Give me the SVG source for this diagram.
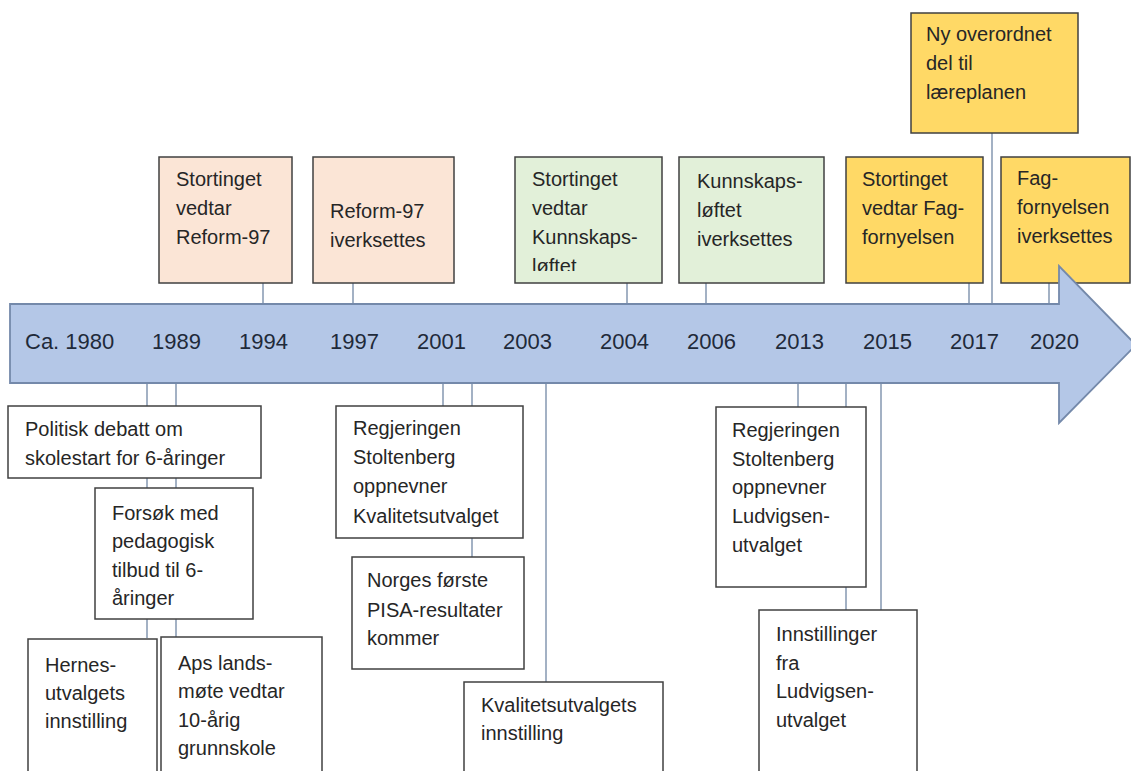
<svg xmlns="http://www.w3.org/2000/svg" width="1131" height="771" viewBox="0 0 1131 771">
<style>
text{font-family:"Liberation Sans",Arial,sans-serif;font-size:20px;fill:#262626}
.yr{font-size:22px;fill:#1f2a3a}
.box{stroke:#404040;stroke-width:1.5}
.w{fill:#ffffff}
.pe{fill:#fbe5d6}
.gr{fill:#e2f0d9}
.ye{fill:#ffd966}
.con line{stroke:#8497b0;stroke-width:1.5}
</style>
<defs>
<clipPath id="c3"><rect x="515" y="157" width="147" height="114"/></clipPath>
</defs>
<rect width="1131" height="771" fill="#ffffff"/>
<g id="connectors" class="con">
<line x1="263" y1="283" x2="263" y2="304"/>
<line x1="353" y1="283" x2="353" y2="304"/>
<line x1="627" y1="283" x2="627" y2="304"/>
<line x1="706" y1="283" x2="706" y2="304"/>
<line x1="969" y1="283" x2="969" y2="304"/>
<line x1="992" y1="133" x2="992" y2="304"/>
<line x1="1049" y1="283" x2="1049" y2="304"/>
<line x1="147" y1="383" x2="147" y2="638"/>
<line x1="176" y1="383" x2="176" y2="638"/>
<line x1="443" y1="383" x2="443" y2="406"/>
<line x1="472" y1="383" x2="472" y2="557"/>
<line x1="546" y1="383" x2="546" y2="682"/>
<line x1="798" y1="383" x2="798" y2="407"/>
<line x1="846" y1="383" x2="846" y2="610"/>
<line x1="881" y1="383" x2="881" y2="610"/>
</g>
<g id="n-1994-top">
<rect class="box pe" x="159" y="157" width="133" height="126"/>
<text x="176" y="186">Stortinget</text><text x="176" y="215">vedtar</text><text x="176" y="244">Reform-97</text>
</g>
<g id="n-1997-top">
<rect class="box pe" x="313" y="157" width="141" height="126"/>
<text x="330" y="218">Reform-97</text><text x="330" y="247">iverksettes</text>
</g>
<g id="n-2004-top">
<rect class="box gr" x="515" y="157" width="147" height="126"/>
<g clip-path="url(#c3)"><text x="532" y="186">Stortinget</text><text x="532" y="215">vedtar</text><text x="532" y="244">Kunnskaps-</text><text x="532" y="273">løftet</text></g>
</g>
<g id="n-2006-top">
<rect class="box gr" x="679" y="157" width="145" height="126"/>
<text x="697" y="188">Kunnskaps-</text><text x="697" y="217">løftet</text><text x="697" y="246">iverksettes</text>
</g>
<g id="n-2015-top">
<rect class="box ye" x="846" y="157" width="137" height="126"/>
<text x="862" y="186">Stortinget</text><text x="862" y="215">vedtar Fag-</text><text x="862" y="244">fornyelsen</text>
</g>
<g id="n-2017-top">
<rect class="box ye" x="911" y="13" width="167" height="120"/>
<text x="926" y="41">Ny overordnet</text><text x="926" y="70">del til</text><text x="926" y="99">læreplanen</text>
</g>
<g id="n-2020-top">
<rect class="box ye" x="1001" y="157" width="129" height="126"/>
<text x="1017" y="185">Fag-</text><text x="1017" y="214">fornyelsen</text><text x="1017" y="243">iverksettes</text>
</g>
<g id="timeline">
<path d="M10,304 H1059 V266 L1136,345 L1059,423 V383 H10 Z" fill="#b4c7e7" stroke="#7489aa" stroke-width="1.8"/>
<text class="yr" x="25" y="349">Ca. 1980</text>
<text class="yr" x="152" y="349">1989</text>
<text class="yr" x="239" y="349">1994</text>
<text class="yr" x="330" y="349">1997</text>
<text class="yr" x="417" y="349">2001</text>
<text class="yr" x="503" y="349">2003</text>
<text class="yr" x="600" y="349">2004</text>
<text class="yr" x="687" y="349">2006</text>
<text class="yr" x="775" y="349">2013</text>
<text class="yr" x="863" y="349">2015</text>
<text class="yr" x="950" y="349">2017</text>
<text class="yr" x="1030" y="349">2020</text>
</g>
<g id="n-politisk">
<rect class="box w" x="8" y="406" width="253" height="72"/>
<text x="25" y="436">Politisk debatt om</text><text x="25" y="465">skolestart for 6-åringer</text>
</g>
<g id="n-forsok">
<rect class="box w" x="95" y="488" width="158" height="131"/>
<text x="112" y="520">Forsøk med</text><text x="112" y="548">pedagogisk</text><text x="112" y="577">tilbud til 6-</text><text x="112" y="605">åringer</text>
</g>
<g id="n-hernes">
<rect class="box w" x="28" y="639" width="129" height="150"/>
<text x="45" y="672">Hernes-</text><text x="45" y="700">utvalgets</text><text x="45" y="728">innstilling</text>
</g>
<g id="n-aps">
<rect class="box w" x="161" y="637" width="161" height="150"/>
<text x="178" y="670">Aps lands-</text><text x="178" y="698">møte vedtar</text><text x="178" y="727">10-årig</text><text x="178" y="755">grunnskole</text>
</g>
<g id="n-kval-oppnevnt">
<rect class="box w" x="336" y="406" width="187" height="132"/>
<text x="353" y="435">Regjeringen</text><text x="353" y="464">Stoltenberg</text><text x="353" y="493">oppnevner</text><text x="353" y="523">Kvalitetsutvalget</text>
</g>
<g id="n-pisa">
<rect class="box w" x="352" y="557" width="172" height="112"/>
<text x="367" y="587">Norges første</text><text x="367" y="617">PISA-resultater</text><text x="367" y="645">kommer</text>
</g>
<g id="n-kval-innst">
<rect class="box w" x="464" y="682" width="199" height="110"/>
<text x="481" y="712">Kvalitetsutvalgets</text><text x="481" y="740">innstilling</text>
</g>
<g id="n-ludv-oppnevnt">
<rect class="box w" x="716" y="407" width="150" height="180"/>
<text x="732" y="437">Regjeringen</text><text x="732" y="466">Stoltenberg</text><text x="732" y="494">oppnevner</text><text x="732" y="523">Ludvigsen-</text><text x="732" y="552">utvalget</text>
</g>
<g id="n-ludv-innst">
<rect class="box w" x="759" y="610" width="158" height="180"/>
<text x="776" y="641">Innstillinger</text><text x="776" y="670">fra</text><text x="776" y="698">Ludvigsen-</text><text x="776" y="727">utvalget</text>
</g>
</svg>
